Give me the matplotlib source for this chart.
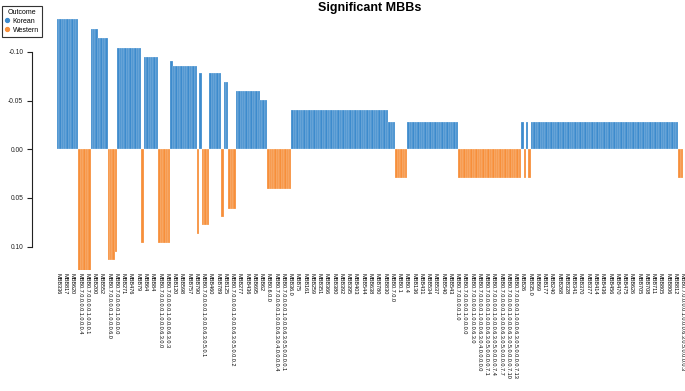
import matplotlib
matplotlib.use("Agg")
import matplotlib.pyplot as plt
from matplotlib.lines import Line2D
import numpy as np

plt.rcParams['font.family'] = ['Liberation Sans', 'DejaVu Sans']

# runs of consecutive bars sharing the same value (left to right)
run_values = [-0.134, 0.125, -0.124, -0.114, 0.114, 0.105, -0.104, 0.096, -0.095, 0.096,
              -0.091, -0.086, 0.087, -0.078, 0.078, -0.078, 0.070, -0.069, 0.061, -0.060,
              -0.051, 0.041, -0.040, -0.028, 0.029, -0.028, 0.029, -0.028, 0.029, -0.028,
              0.029, -0.028, 0.029]
run_counts = [9, 5, 3, 4, 3, 1, 10, 1, 6, 5,
              1, 10, 1, 1, 3, 5, 1, 2, 3, 10,
              3, 10, 40, 3, 5, 21, 26, 1, 1, 1,
              1, 61, 2]
run_outcome = ["Korean", "Western", "Korean", "Korean", "Western", "Western", "Korean", "Western", "Korean", "Western",
               "Korean", "Korean", "Western", "Korean", "Western", "Korean", "Western", "Korean", "Western", "Korean",
               "Korean", "Western", "Korean", "Korean", "Western", "Korean", "Western", "Korean", "Western", "Korean",
               "Western", "Korean", "Western"]

# only every third bar name is printed on the axis
tick_labels = [
    "MBB336", "MBB817", "MBB620", "MBB0.7.0.0.0.0.1.0.0.0.4", "MBB0.7.0.0.0.0.1.0.0.0.1",
    "MBB200", "MBB552", "MBB0.7.0.0.0.0.1.0.0.0.6.0", "MBB0.7.0.0.0.0.1.0.0.0.0", "MBB271",
    "MBB476", "MBB79", "MBB64", "MBB84", "MBB0.7.0.0.0.0.1.0.0.0.6.3.0.0",
    "MBB0.7.0.0.0.0.1.0.0.0.6.3.0.3", "MBB120", "MBB598", "MBB757", "MBB790",
    "MBB0.7.0.0.0.0.1.0.0.0.6.3.0.5.0.1", "MBB460", "MBB789", "MBB125",
    "MBB0.7.0.0.0.0.1.0.0.0.6.3.0.5.0.0.0.2", "MBB277", "MBB436", "MBB695", "MBB62",
    "MBB0.6.0.0", "MBB0.7.0.0.0.0.1.0.0.0.6.3.0.4.0.0.0.0.4",
    "MBB0.7.0.0.0.0.1.0.0.0.6.3.0.5.0.0.0.0.1", "MBB36.0", "MBB75", "MBB161", "MBB259",
    "MBB351", "MBB366", "MBB380", "MBB392", "MBB395", "MBB403", "MBB544", "MBB638",
    "MBB780", "MBB830", "MBB0.7.0.0", "MBB0.1", "MBB0.4", "MBB136", "MBB431", "MBB534",
    "MBB537", "MBB540", "MBB543", "MBB0.7.0.0.0.0.1.0", "MBB0.7.0.0.0.0.1.0.0.0.0",
    "MBB0.7.0.0.0.0.1.0.0.0.6.3.0", "MBB0.7.0.0.0.0.1.0.0.0.6.3.0.4.0.0.0.0.0",
    "MBB0.7.0.0.0.0.1.0.0.0.6.3.0.5.0.0.0.0.7.1", "MBB0.7.0.0.0.0.1.0.0.0.6.3.0.5.0.0.0.0.7.4",
    "MBB0.7.0.0.0.0.1.0.0.0.6.3.0.5.0.0.0.0.7.7", "MBB0.7.0.0.0.0.1.0.0.0.6.3.0.5.0.0.0.0.7.10",
    "MBB0.7.0.0.0.0.1.0.0.0.6.3.0.5.0.0.0.0.7.13", "MBB26", "MBB35.0", "MBB69", "MBB177",
    "MBB240", "MBB268", "MBB328", "MBB341", "MBB370", "MBB377", "MBB414", "MBB436",
    "MBB456", "MBB470", "MBB475", "MBB626", "MBB705", "MBB708", "MBB711", "MBB805",
    "MBB806", "MBB812", "MBB0.7.0.0.0.0.1.0.0.0.6.3.0.5.0.0.0.0.3",
]

palette = {"Korean": "#3d8bcd", "Western": "#f78f3a"}

values = np.repeat(run_values, run_counts)
outcome = np.repeat(run_outcome, run_counts)
x = np.arange(len(values))
colors = [palette[o] for o in outcome]

fig = plt.figure(figsize=(6.85, 3.91), dpi=100)
W, H = 685, 391
left, right, top, bottom = 56.7, 683.3, 15, 270
ax = fig.add_axes([left / W, 1 - bottom / H, (right - left) / W, (bottom - top) / H])

ax.bar(x, values, width=1.0, color=colors, edgecolor=(1, 1, 1, 0.55), linewidth=0.3)

# y axis runs downward, zero at pixel 149.3, 0.05 per 48.7 px
scale = 0.05 / 48.7
ax.set_xlim(-0.5, len(values) - 0.5)
ax.set_ylim((bottom - 149.3) * scale, -(149.3 - top) * scale)

for s in ["top", "right", "bottom"]:
    ax.spines[s].set_visible(False)
ax.spines["left"].set_position(("outward", 18))
ax.spines["left"].set_bounds(-0.10, 0.10)
ax.spines["left"].set_linewidth(0.8)
ax.spines["left"].set_color("#222222")
ax.set_yticks([-0.10, -0.05, 0.00, 0.05, 0.10])
ax.set_yticklabels(["-0.10", "-0.05", "0.00", "0.05", "0.10"])
ax.tick_params(axis="y", length=3.6, width=0.8, pad=2.5, labelsize=4.8, colors="#222222")

ax.set_xticks(x[::3])
ax.set_xticklabels(tick_labels, rotation=-90, fontsize=4.0, va="top", ha="center",
                   rotation_mode="anchor")
ax.tick_params(axis="x", length=0, pad=2.5)
for lab in ax.get_xticklabels():
    lab.set_rotation(270)
    lab.set_ha("left")
    lab.set_va("center")

fig.text((left + right) / 2 / W, 1 - 8.5 / H, "Significant MBBs", ha="center", va="center",
         fontsize=9, fontweight="bold")

handles = [Line2D([], [], marker="o", linestyle="none", markersize=2.8,
                  color=palette[k]) for k in ["Korean", "Western"]]
leg = fig.legend(handles, ["Korean", "Western"], title="Outcome", loc="upper left",
                 bbox_to_anchor=(2 / W, 1 - 6 / H), fontsize=5, title_fontsize=5,
                 frameon=True, fancybox=False, edgecolor="#333333", framealpha=1,
                 handlelength=0.6, handletextpad=0.5, borderpad=0.45, labelspacing=0.25,
                 borderaxespad=0)
leg.get_frame().set_linewidth(0.8)

fig.savefig("out.png", dpi=100)
